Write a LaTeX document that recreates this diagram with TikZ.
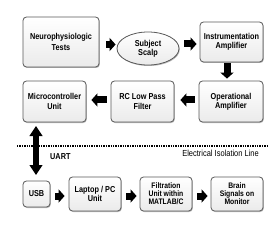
\documentclass[tikz,border=0pt]{standalone}
\usepackage{fontspec}
\newfontfamily\lbl[FakeStretch=0.85]{Liberation Sans}
\usetikzlibrary{shadows,arrows.meta,shapes.geometric}
\begin{document}
\begin{tikzpicture}[x=1pt,y=-1pt,
  box/.style={draw=black!65, line width=0.8pt, rounded corners=3.5pt,
    top color=white, bottom color=black!8, inner sep=1pt,
    drop shadow={shadow xshift=0.8pt, shadow yshift=-1pt, opacity=0.45, fill=black!60},
    align=center, font=\lbl\bfseries\fontsize{8.6}{9.4}\selectfont},
  three/.style={font=\lbl\bfseries\fontsize{8}{8}\selectfont},
  oval/.style={box, ellipse, rounded corners=0pt},
  blk/.style={line width=7pt, -{Triangle[length=6pt,width=13pt]}},
  dbl/.style={line width=5.5pt, {Triangle[length=10pt,width=12.5pt]}-{Triangle[length=10pt,width=12.5pt]}},
  lab/.style={font=\lbl\bfseries\fontsize{8.6}{9.4}\selectfont, inner sep=0pt}]
\useasboundingbox (0,0) rectangle (276,230);
\fill[white] (0,0) rectangle (276,230);

\node[box, minimum width=76pt, minimum height=50pt, font=\lbl\bfseries\fontsize{8.6}{11.5}\selectfont] (nt) at (61,42) {Neurophysiologic\\Tests};
\node[oval, minimum width=62pt, minimum height=33pt, font=\lbl\bfseries\fontsize{8.6}{8.6}\selectfont] (ss) at (148,48.5) {Subject\\Scalp};
\node[box, minimum width=63pt, minimum height=40pt] (ia) at (231.5,42) {Instrumentation\\Amplifier};
\node[box, minimum width=64pt, minimum height=41pt] (oa) at (231,101.5) {Operational\\Amplifier};
\node[box, minimum width=63pt, minimum height=41pt] (rc) at (142.5,101.5) {RC Low Pass\\Filter};
\node[box, minimum width=63pt, minimum height=41pt] (mcu) at (54.5,101.5) {Microcontroller\\Unit};

\node[box, minimum width=27pt, minimum height=26pt] (usb) at (36.5,194) {USB};
\node[box, minimum width=52pt, minimum height=34pt] (pc) at (95,194) {Laptop / PC\\Unit};
\node[box, three, minimum width=52pt, minimum height=34pt] (fu) at (166,194) {Filtration\\Unit within\\MATLAB/C};
\node[box, three, minimum width=52pt, minimum height=34pt] (bs) at (237,194) {Brain\\Signals on\\Monitor};

\draw[blk, shorten <=7pt, shorten >=1pt] ([yshift=-2.5pt]nt.east) -- ([yshift=-2.5pt]nt.east -| ss.west);
\draw[blk, shorten <=5pt, shorten >=3pt] ([yshift=-2pt]ia.west -| ss.east) -- ([yshift=-2pt]ia.west);
\draw[blk, shorten <=1pt, shorten >=2pt] ([xshift=-4.5pt]ia.south) -- ([xshift=-4.5pt]ia.south |- oa.north);
\draw[blk, shorten <=4pt, shorten >=6pt] ([yshift=1.5pt]oa.west) -- ([yshift=1.5pt]oa.west -| rc.east);
\draw[blk, shorten <=4pt, shorten >=5pt] ([yshift=1.5pt]rc.west) -- ([yshift=1.5pt]rc.west -| mcu.east);
\draw[blk, shorten <=5pt, shorten >=4pt] ([yshift=-2pt]usb.east) -- ([yshift=-2pt]usb.east -| pc.west);
\draw[blk, shorten <=5pt, shorten >=3pt] ([yshift=-2pt]pc.east) -- ([yshift=-2pt]pc.east -| fu.west);
\draw[blk, shorten <=5pt, shorten >=3pt] ([yshift=-2pt]fu.east) -- ([yshift=-2pt]fu.east -| bs.west);

\coordinate (dl) at (17,146);
\coordinate (dr) at (267,146);
\draw[line width=1.3pt, dash pattern=on 1.4pt off 1pt] (dl) -- (dr);

\coordinate (ut) at (36,126);
\coordinate (ub) at (36,175);
\draw[dbl] (ut) -- (ub);

\node[lab, anchor=west] (uart) at (50,157) {UART};
\node[lab, anchor=east, font=\lbl\fontsize{8.8}{9}\selectfont] (eil) at (259,153) {Electrical Isolation Line};
\end{tikzpicture}
\end{document}
